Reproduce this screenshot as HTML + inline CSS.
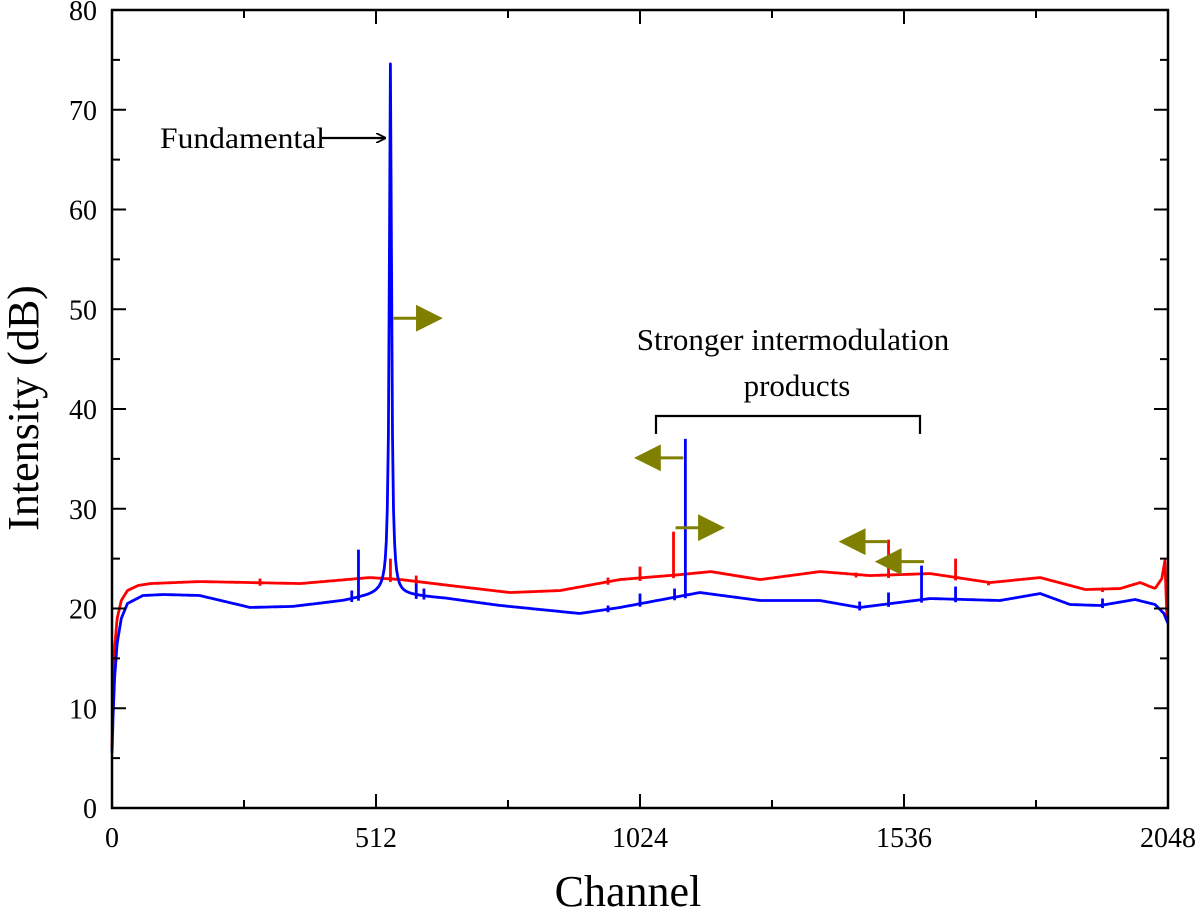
<!DOCTYPE html>
<html><head><meta charset="utf-8">
<style>
html,body{margin:0;padding:0;background:#fff;}
svg{display:block;font-family:"Liberation Serif",serif;}
</style></head>
<body>
<svg id="chart" width="1200" height="912" viewBox="0 0 1200 912" xmlns="http://www.w3.org/2000/svg">
<defs>
<marker id="ah" viewBox="0 0 10 10" refX="10" refY="5" markerWidth="10" markerHeight="10" orient="auto" markerUnits="userSpaceOnUse"><path d="M0,0 L10,5 L0,10" fill="none" stroke="#000" stroke-width="1.8"/></marker>
</defs>
<g id="plot"></g>
<g id="axes"></g>
<g id="annot">
<text x="160" y="148" font-size="30" textLength="165" lengthAdjust="spacingAndGlyphs">Fundamental</text>
<line x1="322" y1="138" x2="386" y2="138" stroke="#000" stroke-width="2.2" marker-end="url(#ah)"/>
<text x="793" y="350" font-size="31" text-anchor="middle">Stronger intermodulation</text>
<text x="797" y="396" font-size="31" text-anchor="middle">products</text>
<path d="M656,434 V416 H920 V434" fill="none" stroke="#000" stroke-width="2.2"/>
</g>
</svg>
<script>
const xTicks=[0,512,1024,1536,2048];
const yTicks=[0,10,20,30,40,50,60,70,80];
const redBaseCh=[0,2,5,10,18,30,50,74,170,365,500,560,656,772,869,985,1103,1161,1257,1373,1470,1587,1703,1800,1888,1955,1994,2023,2036,2042,2046,2048];
const redBaseDb=[6,12,16,19,20.8,21.8,22.3,22.5,22.7,22.5,23.1,22.9,22.3,21.6,21.8,22.9,23.4,23.7,22.9,23.7,23.3,23.5,22.6,23.1,21.9,22,22.6,22,23,24.8,19,19];
const blueBaseCh=[0,2,5,10,18,30,60,100,170,268,350,450,500,530,559,650,752,907,985,1140,1257,1373,1450,1587,1722,1800,1858,1916,1984,2023,2040,2048];
const blueBaseDb=[5.5,9,13,16.5,19,20.5,21.3,21.4,21.3,20.1,20.2,20.8,21.3,21.7,21.4,21,20.3,19.5,20.1,21.6,20.8,20.8,20.1,21,20.8,21.5,20.4,20.3,20.9,20.4,19.5,18.5];
const blueSpikeCh=[465,478,590,605,962,1024,1091,1112,1450,1506,1570,1636,1921];
const blueSpikeDb=[21.8,25.9,22.5,22,20.3,21.5,22,37,20.7,21.6,24.3,22.2,21];
const redSpikeCh=[287,540,590,962,1024,1089,1443,1506,1636,1700,1921];
const redSpikeDb=[23,25,23.3,23.1,24.2,27.7,23.6,26.9,25,22.7,22.1];
const fundCh=540, fundPeak=74.6, fundWidth=2.6;
const arrowCh=[546,1108,1093,1505,1575];
const arrowDb=[49.1,35.1,28.1,26.7,24.7];
const arrowDir=[1,-1,1,-1,-1];

const X0=112,X1=1168,Y0=808,Y1=10;
const sx=c=>X0+c/2048*(X1-X0);
const sy=v=>Y0-v/80*(Y0-Y1);
const NS="http://www.w3.org/2000/svg";
function mk(tag,attrs,parent){const e=document.createElementNS(NS,tag);for(const k in attrs)e.setAttribute(k,attrs[k]);parent.appendChild(e);return e;}
function interp(chs,dbs,c){for(let i=1;i<chs.length;i++){if(c<=chs[i]){const t=(c-chs[i-1])/(chs[i]-chs[i-1]);return dbs[i-1]+t*(dbs[i]-dbs[i-1]);}}return dbs[dbs.length-1];}
const plot=document.getElementById('plot');
const axes=document.getElementById('axes');

function series(chs,dbs,spCh,spDb,color,name,fund){
  let pts=[];
  for(let c=0;c<=2048;c+=(c<40?0.5:2)){
    let v=interp(chs,dbs,c);
    if(fund){const d=(c-fundCh)/fundWidth;const b=interp(chs,dbs,fundCh);v=v+(fundPeak-b)/(1+d*d);}
    pts.push([c,v]);
  }
  let d=pts.map((p,i)=>(i?'L':'M')+sx(p[0]).toFixed(1)+','+sy(p[1]).toFixed(1)).join('');
  const p=mk('path',{d:d,fill:'none',stroke:color,'stroke-width':2.8,'stroke-linejoin':'round'},plot);
  
  
  spCh.forEach((c,i)=>{
    const b=interp(chs,dbs,c);
    const l=mk('line',{x1:sx(c),x2:sx(c),y1:sy(b-0.3),y2:sy(spDb[i]),stroke:color,'stroke-width':2.8},plot);
    
    
  });
}
series(redBaseCh,redBaseDb,redSpikeCh,redSpikeDb,'#ff0000','red-series',false);
series(blueBaseCh,blueBaseDb,blueSpikeCh,blueSpikeDb,'#0000ff','blue-series',true);

arrowCh.forEach((c,i)=>{
  const x=sx(c),y=sy(arrowDb[i]),dir=arrowDir[i];
  const tip=x+dir*46,stem=x+dir*24;
  const a=mk('path',{d:`M${x},${y}H${stem}M${stem},${y-11}L${tip},${y}L${stem},${y+11}Z`,fill:'#808000',stroke:'#808000','stroke-width':3},plot);
  
  
});

const fr=mk('rect',{x:X0,y:Y1,width:X1-X0,height:Y0-Y1,fill:'none',stroke:'#000','stroke-width':2.5},axes);


for(let c=0;c<=2048;c+=256){
  const major=c%512===0,L=major?14:8;
  mk('line',{x1:sx(c),x2:sx(c),y1:Y0,y2:Y0-L,stroke:'#000','stroke-width':2},axes);
  mk('line',{x1:sx(c),x2:sx(c),y1:Y1,y2:Y1+L,stroke:'#000','stroke-width':2},axes);
}
xTicks.forEach(c=>{
  const t=mk('text',{x:sx(c),y:847,'font-size':28,'text-anchor':'middle'},axes);
  t.textContent=c;
  
  
});
for(let v=0;v<=80;v+=5){
  const major=v%10===0,L=major?14:8;
  mk('line',{x1:X0,x2:X0+L,y1:sy(v),y2:sy(v),stroke:'#000','stroke-width':2},axes);
  mk('line',{x1:X1,x2:X1-L,y1:sy(v),y2:sy(v),stroke:'#000','stroke-width':2},axes);
}
yTicks.forEach(v=>{
  const t=mk('text',{x:97,y:sy(v)+10,'font-size':28,'text-anchor':'end'},axes);
  t.textContent=v;
  
  
});
const xt=mk('text',{x:628,y:906,'font-size':44,'text-anchor':'middle'},axes);
xt.textContent='Channel';


const yt=mk('text',{x:0,y:0,'font-size':44,'text-anchor':'middle',transform:'translate(38,408) rotate(-90)'},axes);
yt.textContent='Intensity (dB)';


</script>
</body></html>
